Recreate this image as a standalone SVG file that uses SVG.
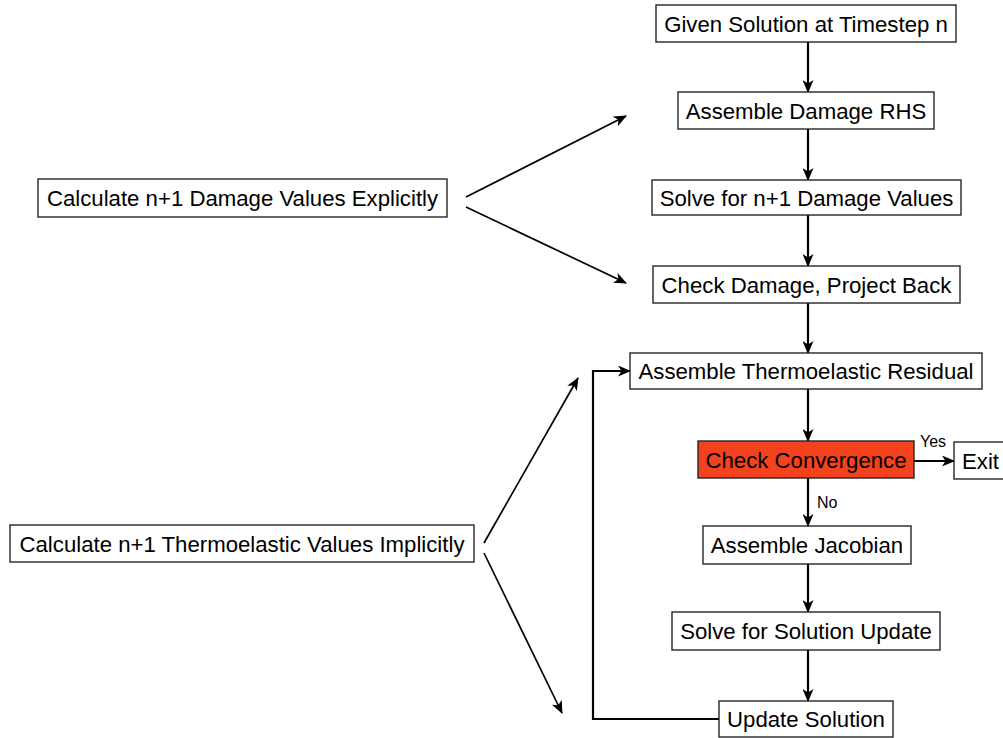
<svg xmlns="http://www.w3.org/2000/svg" width="1003" height="738" viewBox="0 0 1003 738">
  <defs>
    <style>
      .box { fill: #ffffff; stroke: #262626; stroke-width: 1.4; }
      .hot { fill: #f4411e; stroke: #262626; stroke-width: 1.4; }
      .lbl { font-family: "Liberation Sans", Arial, sans-serif; font-size: 22.2px; fill: #000000; text-anchor: middle; }
      .small { font-family: "Liberation Sans", Arial, sans-serif; font-size: 16px; fill: #000000; }
      .edge { fill: none; stroke: #000000; stroke-width: 2.2; }
      .thin { fill: none; stroke: #000000; stroke-width: 1.7; }
    </style>
    <marker id="arrow" viewBox="0 0 13 11" refX="12" refY="5.5" markerWidth="13" markerHeight="11" markerUnits="userSpaceOnUse" orient="auto">
      <path d="M0,0 L13,5.5 L0,11 L3.5,5.5 Z" fill="#000000"/>
    </marker>
  </defs>

  <rect width="1003" height="738" fill="#ffffff"/>

  <!-- connectors -->
  <g id="connectors">
    <line class="edge" x1="808" y1="42" x2="808" y2="92" marker-end="url(#arrow)"/>
    <line class="edge" x1="808" y1="129" x2="808" y2="180" marker-end="url(#arrow)"/>
    <line class="edge" x1="808" y1="215" x2="808" y2="266" marker-end="url(#arrow)"/>
    <line class="edge" x1="808" y1="303" x2="808" y2="353" marker-end="url(#arrow)"/>
    <line class="edge" x1="808" y1="389" x2="808" y2="441" marker-end="url(#arrow)"/>
    <line class="edge" x1="914" y1="461" x2="954" y2="461" marker-end="url(#arrow)"/>
    <line class="edge" x1="808" y1="478" x2="808" y2="526" marker-end="url(#arrow)"/>
    <line class="edge" x1="808" y1="564" x2="808" y2="612" marker-end="url(#arrow)"/>
    <line class="edge" x1="808" y1="650" x2="808" y2="701" marker-end="url(#arrow)"/>
    <!-- loop back from Update Solution to residual assembly -->
    <polyline class="edge" points="719,719 593,719 593,371 630,371" marker-end="url(#arrow)"/>
    <!-- fan-out from explanatory labels -->
    <line class="thin" x1="466" y1="197" x2="626" y2="116" marker-end="url(#arrow)"/>
    <line class="thin" x1="466" y1="207" x2="626" y2="283" marker-end="url(#arrow)"/>
    <line class="thin" x1="484" y1="543" x2="578" y2="378" marker-end="url(#arrow)"/>
    <line class="thin" x1="484" y1="553" x2="562" y2="713" marker-end="url(#arrow)"/>
    <text class="small" x="920" y="447">Yes</text>
    <text class="small" x="817" y="508">No</text>
  </g>

  <g id="given">
    <rect class="box" x="656" y="5" width="300" height="37"/>
    <text class="lbl" x="806" y="31.5">Given Solution at Timestep n</text>
  </g>
  <g id="assemble-rhs">
    <rect class="box" x="678" y="92" width="256" height="37"/>
    <text class="lbl" x="806" y="118.5">Assemble Damage RHS</text>
  </g>
  <g id="solve-damage">
    <rect class="box" x="652" y="180" width="309" height="35"/>
    <text class="lbl" x="806.5" y="205.5">Solve for n+1 Damage Values</text>
  </g>
  <g id="check-damage">
    <rect class="box" x="653" y="266" width="307" height="37"/>
    <text class="lbl" x="806.5" y="292.5">Check Damage, Project Back</text>
  </g>
  <g id="assemble-residual">
    <rect class="box" x="630" y="353" width="352" height="36"/>
    <text class="lbl" x="806" y="379">Assemble Thermoelastic Residual</text>
  </g>
  <g id="check-convergence">
    <rect class="hot" x="698" y="441" width="216" height="37"/>
    <text class="lbl" x="806" y="467.5">Check Convergence</text>
  </g>
  <g id="exit">
    <rect class="box" x="954" y="442" width="52" height="37"/>
    <text class="lbl" x="962" y="468.5" style="text-anchor:start">Exit</text>
  </g>
  <g id="assemble-jacobian">
    <rect class="box" x="703" y="526" width="208" height="38"/>
    <text class="lbl" x="807" y="553">Assemble Jacobian</text>
  </g>
  <g id="solve-update">
    <rect class="box" x="672" y="612" width="268" height="38"/>
    <text class="lbl" x="806" y="639">Solve for Solution Update</text>
  </g>
  <g id="update-solution">
    <rect class="box" x="719" y="701" width="174" height="36"/>
    <text class="lbl" x="806" y="727">Update Solution</text>
  </g>
  <g id="explicit-note">
    <rect class="box" x="38" y="179" width="409" height="38"/>
    <text class="lbl" x="242.5" y="206">Calculate n+1 Damage Values Explicitly</text>
  </g>
  <g id="implicit-note">
    <rect class="box" x="10" y="525" width="464" height="37"/>
    <text class="lbl" x="242" y="551.5">Calculate n+1 Thermoelastic Values Implicitly</text>
  </g>
</svg>
